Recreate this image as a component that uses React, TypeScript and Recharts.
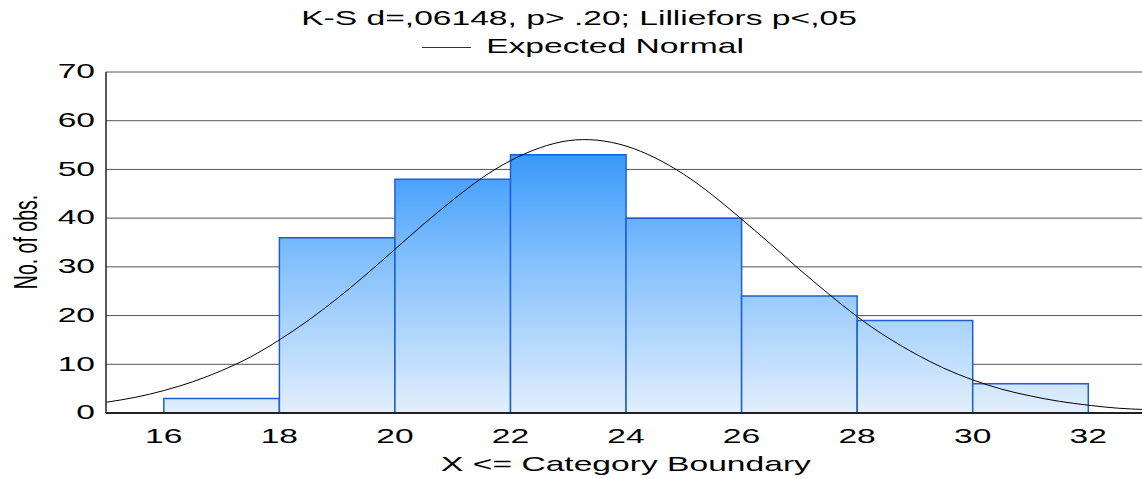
import React from 'react';
import { ComposedChart, Bar, Line, XAxis, YAxis, CartesianGrid, Rectangle } from 'recharts';

// histogram bins (center of each 2-wide class) and counts
const binCenters = [17, 19, 21, 23, 25, 27, 29, 31];
const binCounts = [3, 36, 48, 53, 40, 24, 19, 6];

// expected normal curve
const curveX = [15, 15.5, 16, 16.5, 17, 17.5, 18, 18.5, 19, 19.5, 20, 20.5, 21, 21.5, 22, 22.5, 23, 23.5, 24, 24.5, 25, 25.5, 26, 26.5, 27, 27.5, 28, 28.5, 29, 29.5, 30, 30.5, 31, 31.5, 32, 32.5, 33];
const curveY = [2.2, 3.2, 4.6, 6.4, 8.7, 11.5, 15.0, 19.0, 23.5, 28.4, 33.6, 38.8, 43.7, 48.2, 51.8, 54.4, 55.9, 56.0, 54.8, 52.4, 49.0, 44.7, 39.8, 34.7, 29.5, 24.5, 19.8, 15.7, 12.2, 9.2, 6.8, 4.9, 3.5, 2.4, 1.6, 1.0, 0.7];

const xTicks = [16, 18, 20, 22, 24, 26, 28, 30, 32];
const yTicks = [0, 10, 20, 30, 40, 50, 60, 70];

const title = 'K-S d=,06148, p> .20; Lilliefors p<,05';
const legendLabel = 'Expected Normal';
const xLabel = 'X <= Category Boundary';
const yLabel = 'No. of obs.';

const CHART_W = 1146;
const CHART_H = 479;
const PLOT_LEFT = 106;
const PLOT_TOP = 72;
const PLOT_BOTTOM = 66;
const X_DOMAIN: [number, number] = [15, 33];
const BIN_WIDTH = 2;
const STRETCH = 1.6; // the original text is drawn wide

const barData = binCenters.map((x, i) => ({ x, count: binCounts[i] }));
const curveData = curveX.map((x, i) => ({ x, expected: curveY[i] }));

const plotWidth = CHART_W - PLOT_LEFT;
const barPx = (plotWidth / (X_DOMAIN[1] - X_DOMAIN[0])) * BIN_WIDTH;

const font = '"Liberation Sans", Arial, sans-serif';

const XTick = (props: any) => {
  const { x, y, payload } = props;
  return (
    <g transform={`translate(${x},${y})`}>
      <text transform={`scale(${STRETCH},1)`} textAnchor="middle" dy="0.71em" fontSize={21} fill="#000" fontFamily={font}>
        {payload.value}
      </text>
    </g>
  );
};

const YTick = (props: any) => {
  const { x, y, payload } = props;
  return (
    <g transform={`translate(${x},${y})`}>
      <text transform={`scale(${STRETCH},1)`} textAnchor="end" dy="0.3em" fontSize={21} fill="#000" fontFamily={font}>
        {payload.value}
      </text>
    </g>
  );
};

const HistBar = (props: any) => {
  const { x, width } = props;
  const cx = x + width / 2;
  return <Rectangle {...props} x={cx - barPx / 2} width={barPx} />;
};

const wide = (extra: React.CSSProperties): React.CSSProperties => ({
  position: 'absolute',
  fontSize: 21,
  lineHeight: '24px',
  color: '#000',
  whiteSpace: 'nowrap',
  transform: `translateX(-50%) scaleX(${STRETCH})`,
  ...extra,
});

export default function App() {
  return (
    <div style={{ position: 'absolute', left: 0, top: 0, width: 1142, height: 479, overflow: 'hidden', background: '#fff', fontFamily: font }}>
      <div style={wide({ top: 6, left: 579 })}>{title}</div>
      <div style={{ position: 'absolute', top: 47, left: 422, width: 49, borderTop: '1px solid #333' }} />
      <div style={wide({ top: 34, left: 615 })}>{legendLabel}</div>
      <div style={wide({ top: 452, left: 626 })}>{xLabel}</div>
      <div
        style={{
          position: 'absolute',
          left: 25,
          top: 242,
          transform: 'translate(-50%, -50%) rotate(-90deg) scaleY(1.75)',
          fontSize: 19.5,
          lineHeight: '20px',
          whiteSpace: 'nowrap',
          color: '#000',
        }}
      >
        {yLabel}
      </div>
      <ComposedChart
        width={CHART_W}
        height={CHART_H}
        data={barData}
        margin={{ top: PLOT_TOP, right: 0, bottom: 0, left: 0 }}
        barCategoryGap={0}
        barGap={0}
      >
        <defs>
          <linearGradient id="barFill" gradientUnits="userSpaceOnUse" x1="0" y1="155" x2="0" y2="413">
            <stop offset="0%" stopColor="#3a99fb" />
            <stop offset="35%" stopColor="#79bbfc" />
            <stop offset="100%" stopColor="#e2effd" />
          </linearGradient>
        </defs>
        <CartesianGrid vertical={false} stroke="#555" strokeWidth={1} />
        <XAxis
          xAxisId="bottom"
          dataKey="x"
          type="number"
          domain={X_DOMAIN}
          ticks={xTicks}
          allowDataOverflow
          tick={<XTick />}
          tickLine={false}
          tickSize={6}
          tickMargin={9}
          axisLine={{ stroke: '#222', strokeWidth: 2 }}
          height={PLOT_BOTTOM}
        />
        <XAxis
          xAxisId="top"
          orientation="top"
          dataKey="x"
          type="number"
          domain={X_DOMAIN}
          ticks={xTicks}
          allowDataOverflow
          tick={false}
          mirror
          tickSize={4}
          tickLine={{ stroke: '#333' }}
          axisLine={{ stroke: '#444' }}
          height={0}
        />
        <YAxis
          type="number"
          domain={[0, 70]}
          ticks={yTicks}
          width={PLOT_LEFT}
          tick={<YTick />}
          tickLine={false}
          tickSize={6}
          tickMargin={5}
          axisLine={{ stroke: '#222', strokeWidth: 1.5 }}
        />
        <Bar
          xAxisId="bottom"
          dataKey="count"
          fill="url(#barFill)"
          stroke="#1d5fd2"
          strokeWidth={1.5}
          shape={<HistBar />}
          isAnimationActive={false}
        />
        <Line
          xAxisId="bottom"
          data={curveData}
          dataKey="expected"
          type="natural"
          stroke="#000"
          strokeWidth={1}
          dot={false}
          activeDot={false}
          isAnimationActive={false}
        />
      </ComposedChart>
    </div>
  );
}
